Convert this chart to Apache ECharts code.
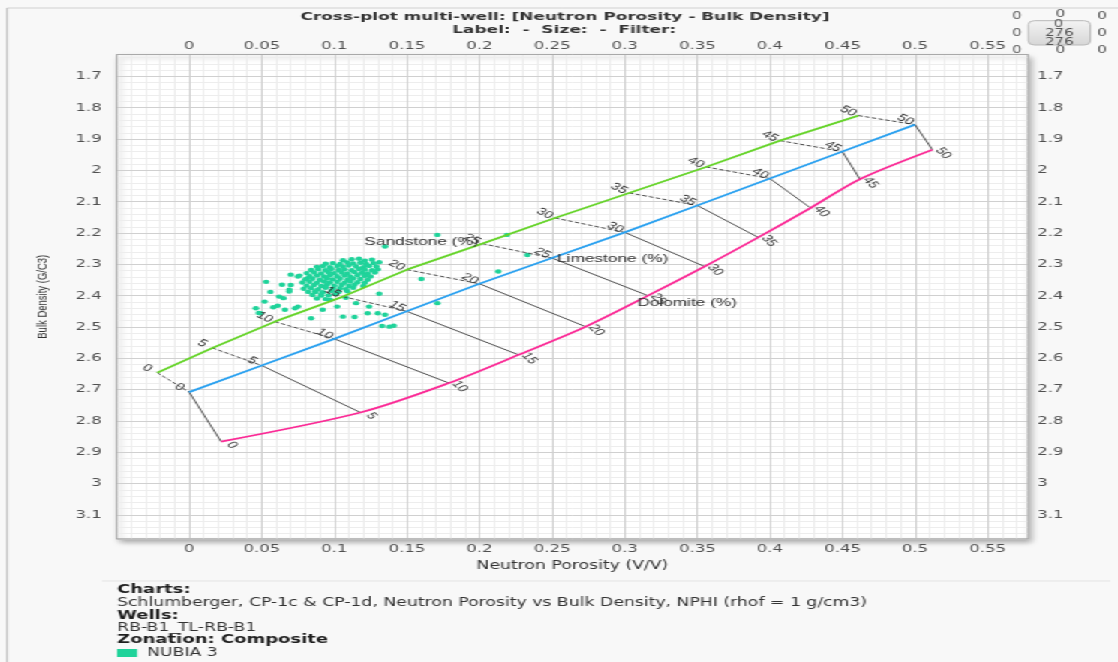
<!DOCTYPE html>
<html>
<head>
<meta charset="utf-8">
<title>Cross-plot multi-well: Neutron Porosity - Bulk Density</title>
<script src="https://cdn.jsdelivr.net/npm/echarts@6.0.0/dist/echarts.min.js"></script>
<style>
  html, body { margin: 0; padding: 0; background: #f8f8f8; overflow: hidden; }
  /* the drawing surface is laid out narrow and widened horizontally */
  #chart { width: 745px; height: 662px; transform: scaleX(1.500671); transform-origin: 0 0; }
</style>
</head>
<body>
<div id="chart"></div>
<script>
// ---- Chart values -------------------------------------------------------
// porosity steps (p.u.) marked along each lithology line
const porositySteps = [0, 5, 10, 15, 20, 25, 30, 35, 40, 45, 50];

// Sandstone line: apparent neutron porosity (v/v) and bulk density (g/cm3)
const sandstoneNphi = [-0.022, 0.016, 0.059, 0.106, 0.150, 0.202, 0.252, 0.303, 0.356, 0.407, 0.461];
const sandstoneRhob = [2.646, 2.567, 2.483, 2.403, 2.317, 2.234, 2.152, 2.072, 1.989, 1.905, 1.825];

// Limestone line
const limestoneNphi = [0.000, 0.050, 0.100, 0.150, 0.200, 0.250, 0.300, 0.350, 0.400, 0.450, 0.500];
const limestoneRhob = [2.708, 2.623, 2.538, 2.450, 2.362, 2.280, 2.198, 2.112, 2.026, 1.940, 1.854];

// Dolomite line
const dolomiteNphi = [0.022, 0.118, 0.179, 0.227, 0.273, 0.316, 0.355, 0.392, 0.428, 0.462, 0.512];
const dolomiteRhob = [2.866, 2.773, 2.679, 2.589, 2.499, 2.400, 2.307, 2.214, 2.120, 2.028, 1.934];

// lithology captions
const lithologyNames = ['Sandstone (%)', 'Limestone (%)', 'Dolomite (%)'];

// NUBIA 3 zone samples: [NPHI, RHOB]
const nubia3Points = [
  [0.171,2.206],[0.135,2.243],[0.219,2.206],[0.233,2.270],[0.213,2.323],[0.160,2.347],[0.171,2.424],
  [0.138,2.499],[0.141,2.496],[0.133,2.497],[0.135,2.461],[0.130,2.456],[0.123,2.456],[0.124,2.435],
  [0.114,2.468],[0.106,2.467],[0.102,2.435],[0.115,2.424],[0.131,2.394],[0.120,2.369],[0.084,2.472],
  [0.075,2.435],[0.066,2.445],[0.061,2.432],[0.048,2.455],[0.046,2.440],[0.052,2.419],[0.049,2.456],
  [0.062,2.403],[0.065,2.408],[0.069,2.381],[0.064,2.365],[0.070,2.366],[0.075,2.339],[0.070,2.333],
  [0.076,2.336],[0.081,2.346],[0.058,2.437],[0.073,2.440],[0.069,2.387],[0.097,2.413],[0.091,2.400],
  [0.108,2.407],[0.092,2.445],[0.087,2.388],[0.056,2.388],[0.053,2.356],
  [0.106,2.287],[0.112,2.284],[0.117,2.282],[0.121,2.288],[0.126,2.285],
  [0.094,2.298],[0.099,2.296],[0.104,2.299],[0.109,2.294],[0.113,2.297],[0.118,2.295],[0.122,2.299],[0.127,2.296],[0.131,2.293],
  [0.088,2.308],[0.092,2.306],[0.097,2.309],[0.102,2.305],[0.106,2.308],[0.110,2.304],[0.115,2.307],[0.120,2.309],[0.124,2.305],[0.129,2.307],
  [0.084,2.318],[0.089,2.316],[0.094,2.319],[0.098,2.315],[0.103,2.318],[0.107,2.316],[0.112,2.319],[0.117,2.315],[0.121,2.317],[0.126,2.319],[0.130,2.316],
  [0.081,2.328],[0.086,2.326],[0.091,2.329],[0.096,2.325],[0.100,2.328],[0.105,2.326],[0.109,2.329],[0.114,2.325],[0.119,2.327],[0.123,2.329],[0.128,2.326],
  [0.083,2.338],[0.088,2.336],[0.093,2.339],[0.097,2.335],[0.102,2.338],[0.107,2.336],[0.111,2.339],[0.116,2.335],[0.121,2.337],[0.125,2.339],
  [0.080,2.348],[0.085,2.346],[0.090,2.349],[0.095,2.345],[0.099,2.348],[0.104,2.346],[0.109,2.349],[0.113,2.345],[0.118,2.347],[0.123,2.349],
  [0.078,2.358],[0.083,2.356],[0.088,2.359],[0.093,2.355],[0.097,2.358],[0.102,2.356],[0.107,2.359],[0.111,2.355],[0.116,2.357],[0.121,2.359],
  [0.081,2.368],[0.086,2.366],[0.091,2.369],[0.095,2.365],[0.100,2.368],[0.105,2.366],[0.110,2.369],[0.114,2.365],
  [0.079,2.378],[0.084,2.376],[0.089,2.379],[0.094,2.375],[0.099,2.378],[0.104,2.376],[0.108,2.379],[0.113,2.375],
  [0.082,2.388],[0.087,2.386],[0.092,2.389],[0.098,2.385],[0.103,2.388],[0.109,2.386],
  [0.085,2.398],[0.091,2.396],[0.096,2.399],[0.101,2.395],
  [0.088,2.409],[0.094,2.411]
];

// footer text
const footerLines = [
  { text: 'Charts:', bold: true },
  { text: 'Schlumberger, CP-1c & CP-1d, Neutron Porosity vs Bulk Density, NPHI (rhof = 1 g/cm3)' },
  { text: 'Wells:', bold: true },
  { text: 'RB-B1_TL-RB-B1' },
  { text: 'Zonation: Composite', bold: true }
];
const zoneName = 'NUBIA 3';
const sampleCount = 276;

// ---- Layout & styles ----------------------------------------------------
const X_MIN = -0.05, X_MAX = 0.578;
const Y_MIN = 1.63, Y_MAX = 3.177;
const GRID = { left: 77.63, top: 54.5, width: 607.6, height: 484.5 };

const C_SAND = '#66d42a', C_LIME = '#2aa1f0', C_DOLO = '#fb2a96', C_ZONE = '#1fd39a';
const UI_FONT = '"DejaVu Sans", sans-serif';
const PLOT_FONT = '"Liberation Sans", Arial, sans-serif';

const axisText = { color: '#505050', fontFamily: UI_FONT, fontSize: 11 };
const isStep = (v, step) => Math.abs(v / step - Math.round(v / step)) < 1e-6;
const fmtX = v => (v > -1e-9 && isStep(v, 0.05)) ? String(+v.toFixed(2)) : '';
const fmtY = v => isStep(v, 0.1) ? String(+v.toFixed(1)) : '';
const bareAxis = { axisLine: { show: false, onZero: false }, axisTick: { show: false } };
const minorLine = { show: true, lineStyle: { color: '#ededed', width: 1 } };
const majorLine = { show: true, lineStyle: { color: '#d0d0d0', width: 1 } };

const pairs = (xs, ys) => xs.map((x, i) => [x, ys[i]]);

function connectors(fromX, fromY, toX, toY, dash) {
  return {
    type: 'lines', coordinateSystem: 'cartesian2d', xAxisIndex: 1, yAxisIndex: 1,
    silent: true, z: 4, polyline: false,
    data: porositySteps.map((p, i) => ({ coords: [[fromX[i], fromY[i]], [toX[i], toY[i]]] })),
    lineStyle: { color: '#3a3a3a', width: 0.9, opacity: 1, type: dash ? [3, 1.6] : 'solid' }
  };
}

function stepLabels(nphi, rhob, dx, dy, angleDeg) {
  return {
    type: 'custom', xAxisIndex: 1, yAxisIndex: 1, z: 7, silent: true,
    data: porositySteps.map((p, i) => [nphi[i], rhob[i], p]),
    renderItem: (params, api) => {
      const c = api.coord([api.value(0), api.value(1)]);
      return {
        type: 'text', x: c[0] + dx, y: c[1] + dy, rotation: -angleDeg * Math.PI / 180,
        style: {
          text: String(api.value(2)), font: '10px ' + PLOT_FONT, fill: '#333',
          align: 'center', verticalAlign: 'middle', textAlign: 'center', textVerticalAlign: 'middle'
        }
      };
    }
  };
}

function caption(text, x, y, dx, dy, align) {
  return {
    type: 'custom', xAxisIndex: 1, yAxisIndex: 1, z: 7, silent: true,
    data: [[x, y]],
    renderItem: (params, api) => {
      const c = api.coord([api.value(0), api.value(1)]);
      return {
        type: 'text', x: c[0] + dx, y: c[1] + dy,
        style: {
          text: text, font: '11.5px ' + PLOT_FONT, fill: '#333',
          align: align, verticalAlign: 'middle', textAlign: align, textVerticalAlign: 'middle'
        }
      };
    }
  };
}

function uiText(text, x, y, opts) {
  opts = opts || {};
  return {
    type: 'text', x: x, y: y, silent: true, z: 10,
    style: {
      text: text, fill: opts.fill || '#333',
      font: (opts.bold ? 'bold ' : '') + (opts.size || 11.5) + 'px ' + UI_FONT,
      align: opts.align || 'left', verticalAlign: 'middle',
      textAlign: opts.align || 'left', textVerticalAlign: 'middle'
    }
  };
}

// ---- Header, footer and selector widget ---------------------------------
const graphics = [
  { type: 'line', silent: true, shape: { x1: 4.7, y1: 8, x2: 745, y2: 8 }, style: { stroke: '#d0d0d0', lineWidth: 1 } },
  { type: 'line', silent: true, shape: { x1: 4.7, y1: 8, x2: 4.7, y2: 662 }, style: { stroke: '#bcbcbc', lineWidth: 1 } },
  uiText('Cross-plot multi-well: [Neutron Porosity - Bulk Density]', 376.5, 17, { bold: true, align: 'center', size: 11.3 }),
  uiText('Label:  -  Size:  -  Filter:', 376, 30, { bold: true, align: 'center', size: 11.3 }),
  // plot frame on top of the grid lines
  { type: 'rect', silent: true, z: 100, shape: { x: GRID.left, y: GRID.top, width: GRID.width, height: GRID.height },
    style: { fill: null, stroke: '#a9a9a9', lineWidth: 1 } },
  { type: 'line', silent: true, shape: { x1: 68, y1: 581, x2: 740, y2: 581 }, style: { stroke: '#e3e3e3', lineWidth: 1 } },
  { type: 'rect', silent: true, shape: { x: 78, y: 649, width: 13.3, height: 8 }, style: { fill: C_ZONE } },
  uiText(zoneName, 98, 653, { fill: '#333' })
];
footerLines.forEach((ln, i) => {
  const ys = [590, 603, 616, 628, 640];
  graphics.push(uiText(ln.text, 78, ys[i], { bold: ln.bold, size: ln.bold ? 12 : 11.5, fill: ln.bold ? '#1e1e1e' : '#333' }));
});
// selector widget (top-right)
[[677.8, 16.7], [706.7, 14], [734.4, 16.7], [677.8, 33.3], [734.4, 33.3], [677.8, 50], [706.7, 50.7], [734.4, 50]]
  .forEach(p => graphics.push(uiText('0', p[0], p[1], { align: 'center', size: 10, fill: '#555' })));
graphics.push({
  type: 'rect', silent: true, z: 9, shape: { x: 685.3, y: 20.7, width: 41.3, height: 24.3, r: 4 },
  style: {
    stroke: '#b8b8b8', lineWidth: 1,
    fill: new echarts.graphic.LinearGradient(0, 0, 0, 1, [{ offset: 0, color: '#f4f4f4' }, { offset: 1, color: '#d6d6d6' }])
  }
});
graphics.push(uiText('0', 705.5, 24.5, { align: 'center', size: 10, fill: '#555' }));
graphics.push(uiText(String(sampleCount), 706, 33, { align: 'center', size: 10, fill: '#555' }));
graphics.push(uiText(String(sampleCount), 706, 42, { align: 'center', size: 10, fill: '#555' }));

// ---- Chart --------------------------------------------------------------
const chart = echarts.init(document.getElementById('chart'), null, { renderer: 'canvas', width: 745, height: 662 });

chart.setOption({
  animation: false,
  backgroundColor: 'transparent',
  grid: {
    ...GRID, show: true, backgroundColor: '#ffffff', borderColor: '#a9a9a9', borderWidth: 1,
    shadowColor: 'rgba(0,0,0,0.35)', shadowBlur: 5, shadowOffsetX: 2, shadowOffsetY: 3
  },
  xAxis: [
    { type: 'value', position: 'bottom', min: X_MIN, max: X_MAX, interval: 0.01, z: 1,
      ...bareAxis, axisLabel: { show: false }, splitLine: minorLine },
    { type: 'value', position: 'bottom', min: X_MIN, max: X_MAX, interval: 0.05, z: 2,
      ...bareAxis, splitLine: majorLine,
      axisLabel: { ...axisText, margin: 5, formatter: fmtX },
      name: 'Neutron Porosity (V/V)', nameLocation: 'middle', nameGap: 21,
      nameTextStyle: { color: '#333', fontFamily: UI_FONT, fontSize: 11.5 } },
    { type: 'value', position: 'top', min: X_MIN, max: X_MAX, interval: 0.05, z: 2,
      ...bareAxis, splitLine: { show: false },
      axisLabel: { ...axisText, margin: 3, formatter: fmtX } }
  ],
  yAxis: [
    { type: 'value', inverse: true, position: 'left', min: Y_MIN, max: Y_MAX, splitNumber: 77, z: 1,
      ...bareAxis, axisLabel: { show: false }, splitLine: minorLine },
    { type: 'value', inverse: true, position: 'left', min: Y_MIN, max: Y_MAX, splitNumber: 15, z: 2,
      ...bareAxis, splitLine: majorLine,
      axisLabel: { ...axisText, margin: 10, formatter: fmtY },
      name: 'Bulk Density (G/C3)', nameLocation: 'middle', nameGap: 44, nameRotate: 90,
      nameTextStyle: { color: '#333', fontFamily: PLOT_FONT, fontSize: 9.5 } },
    { type: 'value', inverse: true, position: 'right', min: Y_MIN, max: Y_MAX, splitNumber: 15, z: 2,
      ...bareAxis, splitLine: { show: false },
      axisLabel: { ...axisText, margin: 6, formatter: fmtY } }
  ],
  graphic: { elements: graphics },
  series: [
    { type: 'scatter', name: zoneName, xAxisIndex: 1, yAxisIndex: 1, z: 3, silent: true,
      data: nubia3Points, symbol: 'circle', symbolSize: 4.4, itemStyle: { color: C_ZONE, opacity: 1 } },
    connectors(sandstoneNphi, sandstoneRhob, limestoneNphi, limestoneRhob, true),
    connectors(limestoneNphi, limestoneRhob, dolomiteNphi, dolomiteRhob, false),
    { type: 'line', name: 'Sandstone', xAxisIndex: 1, yAxisIndex: 1, z: 5, silent: true,
      data: pairs(sandstoneNphi, sandstoneRhob), symbol: 'none', lineStyle: { color: C_SAND, width: 1.8 } },
    { type: 'line', name: 'Limestone', xAxisIndex: 1, yAxisIndex: 1, z: 5, silent: true,
      data: pairs(limestoneNphi, limestoneRhob), symbol: 'none', lineStyle: { color: C_LIME, width: 1.8 } },
    { type: 'line', name: 'Dolomite', xAxisIndex: 1, yAxisIndex: 1, z: 5, silent: true,
      data: pairs(dolomiteNphi, dolomiteRhob), symbol: 'none', smooth: 0.3,
      lineStyle: { color: C_DOLO, width: 1.8 } },
    stepLabels(sandstoneNphi, sandstoneRhob, -6.7, -4.5, 35),
    stepLabels(limestoneNphi, limestoneRhob, -6.3, -5, 35),
    stepLabels(dolomiteNphi, dolomiteRhob, 7.3, 3.5, 55),
    caption(lithologyNames[0], sandstoneNphi[5], sandstoneRhob[5], -2.5, -2, 'right'),
    caption(lithologyNames[1], limestoneNphi[5], limestoneRhob[5], 3.3, 0.7, 'left'),
    caption(lithologyNames[2], dolomiteNphi[5], dolomiteRhob[5], -7.1, 7, 'left')
  ]
});
</script>
</body>
</html>
